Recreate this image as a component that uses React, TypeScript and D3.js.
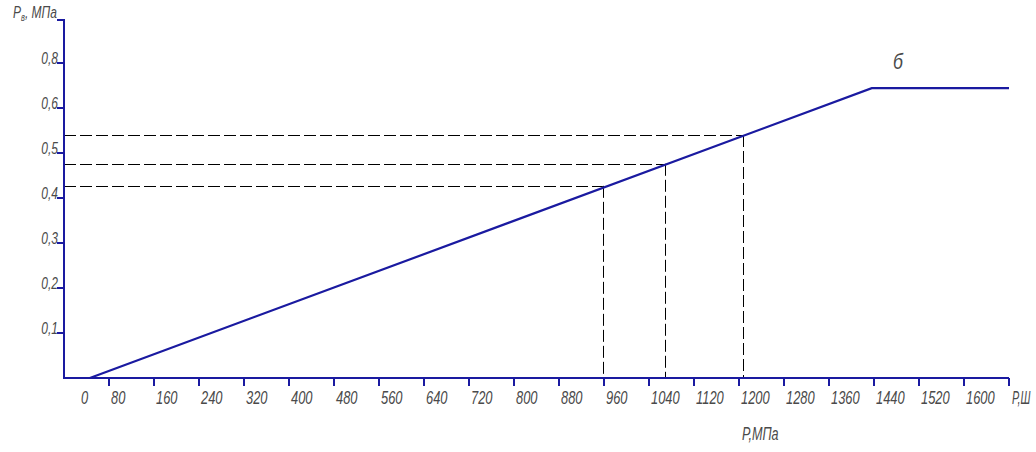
import React from "react";
import * as d3 from "d3";

const xTicks = [80, 160, 240, 320, 400, 480, 560, 640, 720, 800, 880, 960, 1040, 1120, 1200, 1280, 1360, 1440, 1520, 1600];
const yTickValues = [0.1, 0.2, 0.3, 0.4, 0.5, 0.6, 0.7];
const yTickLabels = ["0,1", "0,2", "0,3", "0,4", "0,5", "0,6", "0,8"];
const lineX = [46, 1436, 1680];
const lineY = [0, 0.644, 0.644];
const guideX = [958, 1068, 1207];
const guideY = [0.427, 0.476, 0.54];

const W = 1036, H = 452;
const BLUE = "#1a1aa0";
const TXT = "#4a4a4a";
const FONT = "'Liberation Sans', 'DejaVu Sans', sans-serif";

const r = (v: number) => Math.round(v) + 0.5;

function NText({ x, y, size, anchor, children, sx = 0.72 }: any) {
  return (
    <text
      transform={`translate(${x},${y}) scale(${sx},1)`}
      fontSize={size}
      textAnchor={anchor || "start"}
    >
      {children}
    </text>
  );
}

export default function App() {
  const x = d3.scaleLinear().domain([0, 1680]).range([64, 1009]);
  const y = d3.scaleLinear().domain([0, 0.1]).range([378, 333]);
  const line = d3.line<number>().x((_, i) => x(lineX[i])).y((_, i) => y(lineY[i]));
  const top = 20;
  return (
    <svg width={W} height={H} style={{ position: "absolute", left: 0, top: 0, background: "#fff" }}>
      <g fontFamily={FONT} fontStyle="italic" fill={TXT}>
        {guideX.map((gx, i) => (
          <g key={i} stroke="#000" strokeWidth={1} strokeDasharray="12,4" fill="none">
            <line x1={x(0)} x2={x(gx)} y1={r(y(guideY[i]))} y2={r(y(guideY[i]))} />
            <line x1={r(x(gx))} x2={r(x(gx))} y1={y(guideY[i])} y2={y(0)} />
          </g>
        ))}
        <path d={`M${x(0) - 7},${top}H${x(0)}V${y(0)}H${x(1680)}`} stroke={BLUE} strokeWidth={2} fill="none" />
        {yTickValues.map((v, i) => (
          <g key={v}>
            <line x1={x(0) - 7} x2={x(0)} y1={y(v)} y2={y(v)} stroke={BLUE} strokeWidth={2} />
            <NText x={x(0) - 6} y={y(v) + 1} size={16} anchor="end" sx={0.75}>{yTickLabels[i]}</NText>
          </g>
        ))}
        {xTicks.map((v) => (
          <g key={v}>
            <line x1={x(v)} x2={x(v)} y1={y(0)} y2={y(0) + 8} stroke={BLUE} strokeWidth={2} />
            <NText x={x(v) + 2} y={y(0) + 26} size={19} sx={0.68}>{v}</NText>
          </g>
        ))}
        <line x1={x(1680)} x2={x(1680)} y1={y(0)} y2={y(0) + 8} stroke={BLUE} strokeWidth={2} />
        <NText x={x(0) + 17} y={y(0) + 26} size={19} sx={0.68}>0</NText>
        <NText x={x(1680) + 3} y={y(0) + 26} size={18} sx={0.6}>Р,Ш</NText>
        <NText x={742} y={440} size={18} sx={0.7}>Р,МПа</NText>
        <NText x={13} y={18} size={16} sx={0.75}>Р<tspan fontSize={10} dy={3}>в</tspan><tspan dy={-3}>, МПа</tspan></NText>
        <NText x={893} y={69} size={22} sx={0.8}>б</NText>
        <path d={line(lineX) || ""} stroke={BLUE} strokeWidth={2.2} fill="none" />
      </g>
    </svg>
  );
}
